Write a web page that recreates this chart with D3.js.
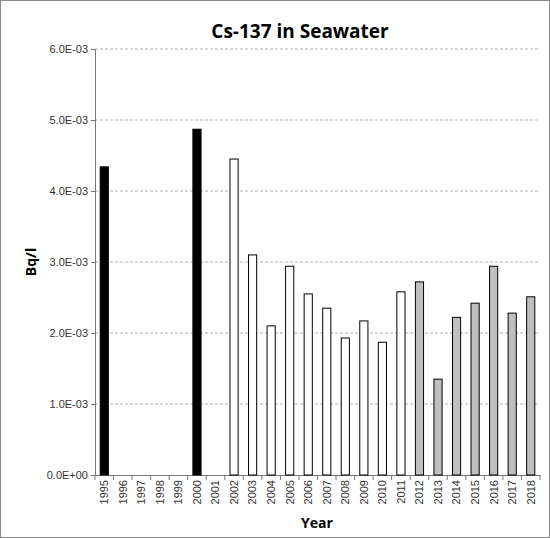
<!DOCTYPE html>
<html><head><meta charset="utf-8">
<script src="https://cdn.jsdelivr.net/npm/d3@7"></script>
<style>body{margin:0;background:#fff}</style>
</head><body>
<script>
var years = d3.range(1995, 2019).map(String);
var values = [4.34e-3, null, null, null, null, 4.87e-3, null, 4.45e-3, 3.10e-3, 2.10e-3,
              2.94e-3, 2.55e-3, 2.35e-3, 1.93e-3, 2.17e-3, 1.87e-3, 2.58e-3, 2.72e-3,
              1.35e-3, 2.22e-3, 2.42e-3, 2.94e-3, 2.28e-3, 2.51e-3];
function fillFor(y) { return +y <= 2000 ? "#000" : (+y <= 2011 ? "#fff" : "#bfbfbf"); }
var yTicks = [0, 1e-3, 2e-3, 3e-3, 4e-3, 5e-3, 6e-3];

var svg = d3.select("body").append("svg").attr("width", 550).attr("height", 538)
  .style("font-family", "'Open Sans', Calibri, sans-serif");
svg.append("rect").attr("x", 0.5).attr("y", 0.5).attr("width", 549).attr("height", 537)
  .attr("fill", "#fff").attr("stroke", "#888");

var x = d3.scaleBand().domain(years).range([95, 540]).paddingInner(0.56).paddingOuter(0.28);
var y = d3.scaleLinear().domain([0, 6e-3]).range([475, 49]);

svg.append("g").selectAll("line").data(yTicks.slice(1)).join("line")
  .attr("x1", 95).attr("x2", 540).attr("y1", d => y(d)).attr("y2", d => y(d))
  .attr("stroke", "#b0b0b0").attr("stroke-dasharray", "3,2");

var yAxis = svg.append("g").attr("transform", "translate(95,0)")
  .call(d3.axisLeft(y).tickValues(yTicks).tickSize(4)
    .tickFormat(d => d3.format(".1e")(d).replace("e-", "E-0").replace("e+", "E+0").replace("e0","E+00")));
yAxis.selectAll("text").attr("font-size", 11).attr("fill", "#333");
yAxis.select(".domain").attr("stroke", "#777");
yAxis.selectAll(".tick line").attr("stroke", "#777");

var xAxis = svg.append("g").attr("transform", "translate(0,475)")
  .call(d3.axisBottom(x).tickSize(0));
xAxis.select(".domain").attr("stroke", "#777");
xAxis.selectAll("text").attr("font-size", 11).attr("fill", "#333")
  .attr("transform", "rotate(-90)").attr("text-anchor", "end").attr("x", -5).attr("y", 0).attr("dy", "0.35em");
svg.append("g").selectAll("line").data(years.concat(["end"])).join("line")
  .attr("x1", (d, i) => 95 + i * x.step()).attr("x2", (d, i) => 95 + i * x.step())
  .attr("y1", 475).attr("y2", 480).attr("stroke", "#777");

svg.append("g").selectAll("rect").data(years.map((d, i) => ({year: d, v: values[i]})).filter(d => d.v != null))
  .join("rect")
  .attr("x", d => x(d.year)).attr("width", x.bandwidth())
  .attr("y", d => y(d.v)).attr("height", d => y(0) - y(d.v))
  .attr("fill", d => fillFor(d.year)).attr("stroke", "#000").attr("stroke-width", 1);

svg.append("text").attr("x", 300).attr("y", 38).attr("text-anchor", "middle")
  .attr("font-size", 19).attr("font-weight", "bold").text("Cs-137 in Seawater");
svg.append("text").attr("x", 317).attr("y", 528).attr("text-anchor", "middle")
  .attr("font-size", 14).attr("font-weight", "bold").text("Year");
svg.append("text").attr("transform", "translate(36,262) rotate(-90)").attr("text-anchor", "middle")
  .attr("font-size", 14).attr("font-weight", "bold").text("Bq/l");
</script>
</body></html>
